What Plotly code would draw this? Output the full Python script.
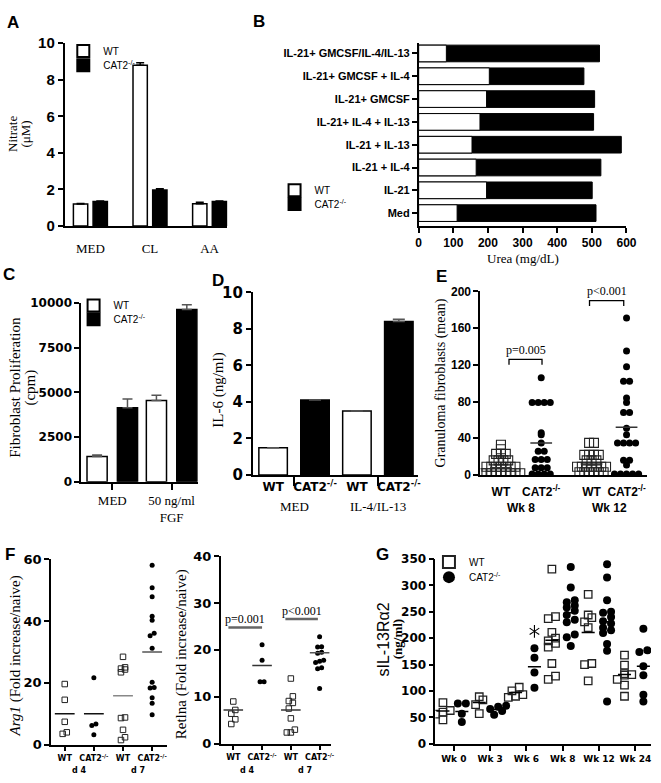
import plotly.graph_objects as go

W, H = 661, 783
def fx(p): return p / W
def fy(p): return 1 - p / H

SANS = "Liberation Sans, Arial, sans-serif"
NARROW = "Liberation Sans Narrow, Arial Narrow, Liberation Sans, Arial, sans-serif"
WIDE = "DejaVu Sans, Verdana, sans-serif"
SERIF = "Liberation Serif, Times New Roman, serif"
CAT2 = "CAT2<sup>-/-</sup>"

# ----------------------------- data -----------------------------
# A: nitrate
a_groups = ["MED", "CL", "AA"]
a_wt = [1.20, 8.79, 1.21]
a_wt_err = [0.02, 0.14, 0.08]
a_cat2 = [1.34, 1.96, 1.34]
a_cat2_err = [0.02, 0.08, 0.02]

# B: urea
b_labels = ["Med", "IL-21", "IL-21 + IL-4", "IL-21 + IL-13", "IL-21+ IL-4 + IL-13",
            "IL-21+ GMCSF", "IL-21+ GMCSF + IL-4", "IL-21+ GMCSF/IL-4/IL-13"]
b_wt = [111, 196, 166, 154, 177, 196, 204, 80]
b_cat2 = [512, 501, 526, 585, 505, 508, 477, 522]

# C: fibroblast proliferation
c_groups = ["MED", "50 ng/ml<br>FGF"]
c_wt = [1420, 4550]
c_wt_err = [90, 290]
c_cat2 = [4150, 9640]
c_cat2_err = [490, 270]

# D: IL-6
d_bars = ["WT", CAT2, "WT", CAT2]
d_groups = ["MED", "IL-4/IL-13"]
d_vals = [1.5, 4.1, 3.5, 8.4]
d_err = [0, 0, 0, 0.12]

# E: granuloma fibroblasts
e_groups = ["WT", CAT2, "WT", CAT2]
e_weeks = ["Wk 8", "Wk 12"]
e_wt8 = [2, 2, 2, 2, 2, 2, 2, 2, 2, 9, 9, 9, 9, 9, 9, 9, 16, 16, 16, 16, 23, 23, 23, 28, 33]
e_cat8 = [106, 79, 79, 79, 79, 46, 44, 35, 26, 26, 17, 17, 17, 8, 8, 8, 1, 1, 1, 1]
e_wt12 = [35, 35, 22, 22, 22, 22, 16, 16, 16, 9, 9, 9, 9, 9, 9, 9, 3, 3, 3, 3, 3, 3]
e_cat12 = [171, 135, 118, 102, 102, 84, 79, 68, 68, 51, 44, 35, 35, 35, 35, 16, 16, 11, 1, 1, 1, 1, 1]
e_means = [8, 35, 12, 52]
e_pvals = ["p=0.005", "p<0.001"]

# F: Arg1 and Retlna
f_groups = ["WT", CAT2, "WT", CAT2]
f_days = ["d 4", "d 7"]
f1_wt_d4 = [19.6, 14.5, 7.4, 4.0, 3.5]
f1_cat_d4 = [21.6, 6.7, 6.2, 3.2]
f1_wt_d7 = [28.4, 25.0, 24.6, 24.3, 23.4, 8.8, 8.6, 4.8, 2.4, 1.5]
f1_cat_d7 = [58.0, 50.7, 47.8, 41.5, 40.2, 36.0, 35.2, 31.2, 20.2, 18.5, 18.3, 15.2, 13.4, 9.7]
f1_means = [10.0, 10.0, 15.8, 30.0]
f2_wt_d4 = [9.0, 7.2, 6.4, 5.2, 4.2]
f2_cat_d4 = [21.1, 17.8, 13.2, 13.2]
f2_wt_d7 = [13.9, 10.1, 9.1, 8.7, 7.5, 5.4, 3.0, 2.4, 2.4]
f2_cat_d7 = [22.8, 20.7, 20.6, 19.5, 19.3, 17.8, 17.6, 17.3, 16.2, 16.0, 11.8]
f2_means = [7.2, 16.7, 7.2, 19.4]

# G: sIL-13Ra2
g_weeks = ["Wk 0", "Wk 3", "Wk 6", "Wk 8", "Wk 12", "Wk 24"]
g_wt = [[78, 63, 60, 56, 45],
        [89, 83, 74, 57],
        [107, 100, 93, 90, 88],
        [331, 241, 237, 211, 200, 195, 190, 183, 152, 128, 122],
        [283, 244, 239, 231, 220, 152, 150, 119],
        [168, 149, 133, 131, 130, 122, 111, 90]]
g_cat = [[76, 76, 57, 41],
         [72, 70, 66, 62, 55],
         [181, 163, 135, 106],
         [335, 296, 272, 268, 262, 258, 252, 244, 235, 230, 207, 202, 185],
         [340, 315, 272, 250, 248, 240, 232, 228, 220, 215, 210, 189, 176, 80],
         [218, 177, 174, 147, 130, 93, 80]]
g_wt_mean = [62, 78, 97, 196, 211, 131]
g_cat_mean = [61, 65, 146, 248, 231, 147]
g_star_week = [2, 3]
g_star_y = [213, 357]

# ----------------------------- helpers -----------------------------
fig = go.Figure()
layout = dict(width=W, height=H, margin=dict(l=0, r=0, t=0, b=0), autosize=False,
              paper_bgcolor="white", plot_bgcolor="white", barmode="overlay",
              annotations=[], showlegend=True)


def tf(family, size, bold=True, color="black"):
    return dict(family=family, size=size, color=color, weight="bold" if bold else "normal")


def make_axes(n, dom_x, dom_y, xr, yr, xkw=None, ykw=None, lw=2):
    s = "" if n == 1 else str(n)
    base = dict(showline=True, linecolor="black", linewidth=lw, showgrid=False, zeroline=False,
                ticks="outside", tickcolor="black", tickwidth=1.5, ticklen=5, fixedrange=True,
                tickangle=0)
    xa = dict(base)
    xa.update(domain=[fx(dom_x[0]), fx(dom_x[1])], range=xr, anchor="y" + s)
    xa.update(xkw or {})
    ya = dict(base)
    ya.update(domain=[fy(dom_y[1]), fy(dom_y[0])], range=yr, anchor="x" + s)
    ya.update(ykw or {})
    layout["xaxis" + s] = xa
    layout["yaxis" + s] = ya
    return ("x" + s, "y" + s)


def note(text, x, y, size, family=SERIF, xref="paper", yref="paper", angle=0, bold=False):
    layout["annotations"].append(dict(
        text=text, x=fx(x) if xref == "paper" else x, y=fy(y) if yref == "paper" else y,
        xref=xref, yref=yref, showarrow=False, textangle=angle,
        xanchor="center", yanchor="middle", font=tf(family, size, bold)))


def legend_at(key, sym_cx, cy):
    layout[key] = dict(x=fx(sym_cx - 20), y=fy(cy - 4), xanchor="left", yanchor="middle",
                       bgcolor="rgba(0,0,0,0)", borderwidth=0, itemsizing="constant",
                       font=dict(family=SANS, size=10, color="black"))


def sc(ax, x, y, **kw):
    kw.setdefault("showlegend", False)
    fig.add_trace(go.Scatter(x=x, y=y, xaxis=ax[0], yaxis=ax[1], hoverinfo="skip", **kw))


def spread(vals, tol, step):
    """Deterministic horizontal spreading of points whose values nearly coincide."""
    order = sorted(range(len(vals)), key=lambda i: vals[i])
    offs = [0.0] * len(vals)
    cluster = []

    def flush(c):
        n = len(c)
        for k, i in enumerate(c):
            offs[i] = (k - (n - 1) / 2) * step

    for i in order:
        if cluster and vals[i] - vals[cluster[0]] > tol:
            flush(cluster)
            cluster = []
        cluster.append(i)
    if cluster:
        flush(cluster)
    return offs


def points(center_list, series_list, tol, step):
    xs, ys = [], []
    for c, vals in zip(center_list, series_list):
        for o, v in zip(spread(vals, tol, step), vals):
            xs.append(c + o)
            ys.append(v)
    return xs, ys


def mean_lines(centers, means, half):
    xs, ys = [], []
    for c, m in zip(centers, means):
        xs += [c - half, c + half, None]
        ys += [m, m, None]
    return xs, ys


WHITE_BAR = dict(color="white", line=dict(color="black", width=1.5))
BLACK_BAR = dict(color="black", line=dict(color="black", width=1.5))

# ----------------------------- panel A -----------------------------
axA = make_axes(1, (63, 229), (35, 222), [-0.43, 2.30], [0, 10],
                xkw=dict(tickvals=list(range(len(a_groups))), ticktext=a_groups, ticks="",
                         tickfont=tf(SERIF, 13, False), ticklabelstandoff=10),
                ykw=dict(dtick=2, tickfont=tf(SANS, 15)))
A_OFF, A_W = 0.165, 0.24
ax_i = list(range(len(a_groups)))
fig.add_trace(go.Bar(x=[i - A_OFF for i in ax_i], y=a_wt, width=A_W, name="WT", legend="legend",
                     marker=WHITE_BAR, xaxis=axA[0], yaxis=axA[1], hoverinfo="skip",
                     error_y=dict(type="data", symmetric=False, array=a_wt_err,
                                  arrayminus=[0] * len(ax_i), color="black", thickness=1.5, width=4)))
fig.add_trace(go.Bar(x=[i + A_OFF for i in ax_i], y=a_cat2, width=A_W, name=CAT2, legend="legend2",
                     marker=BLACK_BAR, xaxis=axA[0], yaxis=axA[1], hoverinfo="skip",
                     error_y=dict(type="data", symmetric=False, array=a_cat2_err,
                                  arrayminus=[0] * len(ax_i), color="black", thickness=1.5, width=4)))
legend_at("legend", 81.5, 47)
legend_at("legend2", 81.5, 61.5)
note("A", 10, 14, 17, SANS, bold=True)
note("Nitrate", 9, 128, 13, SERIF, angle=-90)
note("(μM)", 22, 128, 13, SERIF, angle=-90)

# ----------------------------- panel B -----------------------------
axB = make_axes(2, (424, 636), (35, 222), [0, 600], [-0.56, 7.45],
                xkw=dict(dtick=100, tickfont=tf(NARROW, 12)),
                ykw=dict(tickvals=list(range(len(b_labels))), ticktext=b_labels,
                         tickfont=tf(NARROW, 11)), lw=1.5)
b_i = list(range(len(b_labels)))
fig.add_trace(go.Bar(y=b_i, x=b_cat2, orientation="h", width=0.73, name=CAT2, legend="legend4",
                     marker=dict(color="black", line=dict(color="black", width=1)),
                     xaxis=axB[0], yaxis=axB[1], hoverinfo="skip"))
fig.add_trace(go.Bar(y=b_i, x=b_wt, orientation="h", width=0.73, name="WT", legend="legend3",
                     marker=dict(color="white", line=dict(color="black", width=1)),
                     xaxis=axB[0], yaxis=axB[1], hoverinfo="skip"))
legend_at("legend3", 297, 189.5)
legend_at("legend4", 297, 203.5)
note("B", 261, 13, 17, SANS, bold=True)
note("Urea (mg/dL)", 530, 255, 13, SERIF)

# ----------------------------- panel C -----------------------------
axC = make_axes(3, (80, 199), (301, 484), [-0.52, 1.446], [0, 10000],
                xkw=dict(tickvals=list(range(len(c_groups))), ticktext=c_groups, ticklen=6,
                         tickfont=tf(SERIF, 13, False)),
                ykw=dict(tickvals=[0, 2500, 5000, 7500, 10000], tickformat="d",
                         tickfont=tf(WIDE, 12)))
C_OFF, C_W = 0.256, 0.34
c_i = list(range(len(c_groups)))
fig.add_trace(go.Bar(x=[i - C_OFF for i in c_i], y=c_wt, width=C_W, name="WT", legend="legend5",
                     marker=WHITE_BAR, xaxis=axC[0], yaxis=axC[1], hoverinfo="skip",
                     error_y=dict(type="data", symmetric=False, array=c_wt_err,
                                  arrayminus=[0] * len(c_i), color="#555", thickness=1.5, width=5)))
fig.add_trace(go.Bar(x=[i + C_OFF for i in c_i], y=c_cat2, width=C_W, name=CAT2, legend="legend6",
                     marker=BLACK_BAR, xaxis=axC[0], yaxis=axC[1], hoverinfo="skip",
                     error_y=dict(type="data", symmetric=False, array=c_cat2_err,
                                  arrayminus=[0] * len(c_i), color="#555", thickness=1.5, width=5)))
legend_at("legend5", 92, 307.5)
legend_at("legend6", 92, 321.5)
note("C", 6, 272, 17, SANS, bold=True)
note("Fibroblast Proliferation", 12, 387, 15, SERIF, angle=-90)
note("(cpm)", 28, 387, 15, SERIF, angle=-90)

# ----------------------------- panel D -----------------------------
axD = make_axes(4, (255, 423), (290, 477), [-0.48, 3.45], [0, 10],
                xkw=dict(tickvals=list(range(len(d_bars))), ticktext=d_bars, ticklen=0,
                         tickfont=tf(WIDE, 12),
                         minor=dict(tickvals=[0.5, 2.5], ticks="outside", ticklen=9,
                                    tickwidth=1.5, tickcolor="black")),
                ykw=dict(dtick=2, tickfont=tf(WIDE, 15)))
d_i = list(range(len(d_bars)))
fig.add_trace(go.Bar(x=d_i, y=d_vals, width=0.68, showlegend=False,
                     marker=dict(color=["white", "black", "white", "black"],
                                 line=dict(color="black", width=1.5)),
                     xaxis=axD[0], yaxis=axD[1], hoverinfo="skip",
                     error_y=dict(type="data", symmetric=False, array=d_err,
                                  arrayminus=[0] * len(d_i), color="#555", thickness=1.5, width=6)))
for k, g in enumerate(d_groups):
    note(g, 2 * k + 0.5, 509, 13, SERIF, xref=axD[0])
note("D", 219, 278, 17, SANS, bold=True)
note("IL-6 (ng/ml)", 219, 390, 15, SERIF, angle=-90)

# ----------------------------- panel E -----------------------------
E_X = [0, 1.0, 2.25, 3.12]
axE = make_axes(5, (487, 657), (289, 477), [-0.51, 3.63], [0, 200],
                xkw=dict(tickvals=E_X, ticktext=e_groups, ticks="", tickfont=tf(SANS, 12),
                         ticklabelstandoff=5),
                ykw=dict(dtick=40, tickfont=tf(SANS, 12)))
xs, ys = points([E_X[0], E_X[2]], [e_wt8, e_wt12], 0.5, 0.12)
sc(axE, xs, ys, mode="markers",
   marker=dict(symbol="square-open", size=9, color="#222", line=dict(width=1.1)))
xs, ys = points([E_X[1], E_X[3]], [e_cat8, e_cat12], 0.5, 0.15)
sc(axE, xs, ys, mode="markers", marker=dict(symbol="circle", size=7, color="black"))
xs, ys = mean_lines(E_X, e_means, 0.27)
sc(axE, xs, ys, mode="lines", line=dict(color="#333", width=1.5))
# significance brackets
br_x = [[0.2, 0.2, 1.02, 1.02], [2.2, 2.2, 3.05, 3.05]]
br_y = [[120, 126, 126, 120], [184, 190, 190, 184]]
for k in range(2):
    sc(axE, br_x[k], br_y[k], mode="lines", line=dict(color="black", width=1.3), cliponaxis=False)
    note(e_pvals[k], (br_x[k][0] + br_x[k][2]) / 2, br_y[k][1] + 10, 12, SERIF,
         xref=axE[0], yref=axE[1])
for k, wk in enumerate(e_weeks):
    note(wk, (E_X[2 * k] + E_X[2 * k + 1]) / 2, 511, 12, SANS, xref=axE[0], bold=True)
note("E", 447, 274, 17, SANS, bold=True)
note("Granuloma fibroblasts (mean)", 447, 383, 14, SERIF, angle=-90)

# ----------------------------- panel F -----------------------------
F_X = [0, 1, 2, 3]
F_MEAN_COL_L = ["#111", "#111", "#888", "#555"]
F_MEAN_COL_R = ["#333", "#333", "#333", "#555"]
axF1 = make_axes(6, (49, 167), (563, 753), [-0.47, 3.5], [0, 60],
                 xkw=dict(tickvals=F_X, ticktext=f_groups, tickfont=tf(WIDE, 8)),
                 ykw=dict(dtick=20, tickfont=tf(WIDE, 13)), lw=1.5)
axF2 = make_axes(7, (222, 335), (560, 752), [-0.44, 3.41], [0, 40],
                 xkw=dict(tickvals=F_X, ticktext=f_groups, tickfont=tf(WIDE, 8)),
                 ykw=dict(dtick=10, tickfont=tf(WIDE, 13)), lw=1.5)
for ax, wt_sets, cat_sets, means, cols in [
        (axF1, [f1_wt_d4, f1_wt_d7], [f1_cat_d4, f1_cat_d7], f1_means, F_MEAN_COL_L),
        (axF2, [f2_wt_d4, f2_wt_d7], [f2_cat_d4, f2_cat_d7], f2_means, F_MEAN_COL_R)]:
    xs, ys = points([F_X[0], F_X[2]], wt_sets, 1.2, 0.14)
    sc(ax, xs, ys, mode="markers",
       marker=dict(symbol="square-open", size=5.5, color="#222", line=dict(width=1)))
    xs, ys = points([F_X[1], F_X[3]], cat_sets, 1.2, 0.14)
    sc(ax, xs, ys, mode="markers", marker=dict(symbol="circle", size=5, color="black"))
    for k in range(4):
        xs, ys = mean_lines([F_X[k]], [means[k]], 0.34)
        sc(ax, xs, ys, mode="lines", line=dict(color=cols[k], width=1.5))
    for k, dd in enumerate(f_days):
        note(dd, (F_X[2 * k] + F_X[2 * k + 1]) / 2, 779, 8, WIDE, xref=ax[0], bold=True)
# p-value bars
sc(axF1, [1.82, 3.1], [61, 61], mode="lines", line=dict(color="#666", width=2.5), cliponaxis=False)
note("p=0.020", 2.46, 63.6, 12, SERIF, xref=axF1[0], yref=axF1[1])
sc(axF2, [-0.17, 1.0], [24.8, 24.8], mode="lines", line=dict(color="#666", width=2.5))
note("p=0.001", 0.42, 26.6, 12, SERIF, xref=axF2[0], yref=axF2[1])
sc(axF2, [1.81, 2.94], [26.6, 26.6], mode="lines", line=dict(color="#666", width=2.5))
note("p<0.001", 2.38, 28.4, 12, SERIF, xref=axF2[0], yref=axF2[1])
note("F", 7, 558, 17, SANS, bold=True)
note("<i>Arg1</i> (Fold increase/naive)", 13, 662, 15, SERIF, angle=-90)
note("Retlna (Fold increase/naive)", 182, 660, 15, SERIF, angle=-90)

# ----------------------------- panel G -----------------------------
G_WT_DX, G_CAT_DX = -0.3, 0.22
g_i = list(range(len(g_weeks)))
axG = make_axes(8, (441, 661), (563, 752), [-0.51, 5.43], [0, 350],
                xkw=dict(tickvals=g_i, ticktext=g_weeks, ticklen=6, tickfont=tf(WIDE, 9)),
                ykw=dict(dtick=50, tickfont=tf(WIDE, 12)), lw=1.5)
xs, ys = points([i + G_WT_DX for i in g_i], g_wt, 9, 0.2)
sc(axG, xs, ys, mode="markers", name="WT", legend="legend7", showlegend=True,
   marker=dict(symbol="square-open", size=7.5, color="#222", line=dict(width=1.3)))
xs, ys = points([i + G_CAT_DX for i in g_i], g_cat, 9, 0.22)
sc(axG, xs, ys, mode="markers", name=CAT2, legend="legend8", showlegend=True,
   marker=dict(symbol="circle", size=8, color="black"))
xs, ys = mean_lines([i + G_WT_DX for i in g_i], g_wt_mean, 0.18)
sc(axG, xs, ys, mode="lines", line=dict(color="black", width=1.5))
xs, ys = mean_lines([i + G_CAT_DX for i in g_i], g_cat_mean, 0.18)
sc(axG, xs, ys, mode="lines", line=dict(color="black", width=1.5))
# six-armed significance stars (two three-armed glyphs superimposed)
for sym in ["y-up-open", "y-down-open"]:
    sc(axG, [w + G_CAT_DX for w in g_star_week], g_star_y, mode="markers", cliponaxis=False,
       marker=dict(symbol=sym, size=8, color="black", line=dict(width=1.1, color="black")))
legend_at("legend7", 454.5, 570)
legend_at("legend8", 454.5, 585.5)
note("G", 387, 558, 17, SANS, bold=True)
note("sIL-13Rα2", 388, 645, 16, SANS, angle=-90)
note("(ng/ml)", 402, 645, 13, SERIF, angle=-90, bold=True)

fig.update_layout(**layout)
fig.write_html("out.html", config={"displayModeBar": False},
               post_script="document.body.style.margin='0px';document.body.style.overflow='hidden';")
